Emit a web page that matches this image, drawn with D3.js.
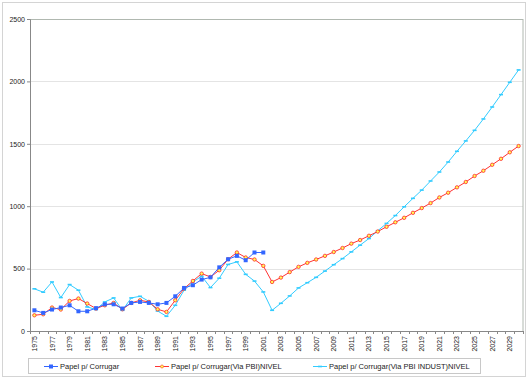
<!DOCTYPE html>
<html>
<head>
<meta charset="utf-8">
<script src="https://cdn.jsdelivr.net/npm/d3@7"></script>
<style>
  body { margin: 0; background: #fff; }
  text { font-family: "Liberation Sans", Arial, sans-serif; }
</style>
</head>
<body>
<div id="chart"></div>
<script>
// years on the category axis
const years = d3.range(1975, 2031);

// Papel p/ Corrugar (1975-2001)
const papel = [166, 145, 172, 188, 206, 158, 158, 183, 214, 214, 180, 225, 233, 225, 214, 225,
  278, 345, 367, 412, 430, 510, 575, 602, 567, 629, 629];

// Papel p/ Corrugar(Via PBI)NIVEL (1975-2030)
const viaPbi = [126, 134, 188, 172, 241, 260, 220, 180, 206, 225, 174, 225, 246, 233, 174, 153,
  246, 340, 401, 460, 433, 487, 575, 629, 589, 573, 522, 393, 428, 472, 514, 546,
  573, 602, 633, 665, 700, 729, 763, 797, 835, 871, 907, 947, 985, 1025, 1070, 1108,
  1151, 1194, 1242, 1284, 1332, 1380, 1432, 1482];

// Papel p/ Corrugar(Via PBI INDUST)NIVEL (1975-2030)
const viaIndust = [338, 311, 393, 268, 372, 327, 193, 172, 233, 265, 166, 265, 278, 238, 160, 118,
  206, 327, 393, 439, 348, 423, 533, 554, 454, 400, 313, 166, 222, 281, 345, 387,
  430, 480, 531, 580, 634, 688, 741, 803, 862, 925, 995, 1063, 1129, 1202, 1274, 1354,
  1440, 1523, 1608, 1699, 1795, 1894, 1993, 2092];

const yTicks = [0, 500, 1000, 1500, 2000, 2500];
const seriesNames = ['Papel p/ Corrugar', 'Papel p/ Corrugar(Via PBI)NIVEL', 'Papel p/ Corrugar(Via PBI INDUST)NIVEL'];

const W = 528, H = 379;
const margin = {top: 19, right: 5, bottom: 48, left: 30};
const width = W - margin.left - margin.right;
const height = H - margin.top - margin.bottom;

const svg = d3.select('#chart').append('svg')
  .attr('width', W)
  .attr('height', H);

// outer frame
svg.append('rect')
  .attr('x', 2.5).attr('y', 2.5)
  .attr('width', W - 5).attr('height', H - 5)
  .attr('fill', '#fff')
  .attr('stroke', '#d4d4d4');

const g = svg.append('g')
  .attr('transform', `translate(${margin.left},${margin.top})`);

const x = d3.scaleBand()
  .domain(years)
  .range([0, width])
  .padding(0);

const y = d3.scaleLinear()
  .domain([0, 2500])
  .range([height, 0]);

const cx = d => x(d) + x.bandwidth() / 2;

// gridlines
g.selectAll('.grid')
  .data(yTicks.slice(1, -1))
  .enter().append('line')
  .attr('x1', 0).attr('x2', width)
  .attr('y1', d => Math.round(y(d)) + 0.5)
  .attr('y2', d => Math.round(y(d)) + 0.5)
  .attr('stroke', '#e4e4e4');

// plot border
g.append('rect')
  .attr('x', 0.5).attr('y', 0.5)
  .attr('width', width - 0.5).attr('height', height)
  .attr('fill', 'none')
  .attr('stroke', '#b0b8b0');

// y axis
const yAxis = d3.axisLeft(y).tickValues(yTicks).tickFormat(d3.format('d')).tickSize(3).tickPadding(2);
g.append('g')
  .call(yAxis)
  .call(a => a.select('.domain').attr('stroke', '#888'))
  .call(a => a.selectAll('.tick line').attr('stroke', '#888'))
  .call(a => a.selectAll('text').attr('font-size', 7).attr('fill', '#222')
    .style('font-family', '"Liberation Sans", Arial, sans-serif'));

// x axis: ticks between categories, labels every other year
const xAxisG = g.append('g')
  .attr('transform', `translate(0,${height})`);
xAxisG.append('line')
  .attr('x1', 0).attr('x2', width)
  .attr('y1', 0.5).attr('y2', 0.5)
  .attr('stroke', '#888');
xAxisG.selectAll('.xt')
  .data(years.concat([2031]))
  .enter().append('line')
  .attr('x1', (d, i) => Math.round(i * x.bandwidth()) + 0.5)
  .attr('x2', (d, i) => Math.round(i * x.bandwidth()) + 0.5)
  .attr('y1', 0).attr('y2', 3)
  .attr('stroke', '#888');
xAxisG.selectAll('.xl')
  .data(years.filter((d, i) => i % 2 === 0))
  .enter().append('text')
  .attr('transform', d => `translate(${cx(d) + 2.5},${5}) rotate(-90)`)
  .attr('text-anchor', 'end')
  .attr('font-size', 7)
  .attr('fill', '#222')
  .text(d => d);

const line = d3.line()
  .x((d, i) => cx(years[i]))
  .y(d => y(d));

// cyan series
g.append('path')
  .datum(viaIndust)
  .attr('d', line)
  .attr('fill', 'none')
  .attr('stroke', '#33ccff')
  .attr('stroke-width', 1);
g.selectAll('.mc')
  .data(viaIndust)
  .enter().append('rect')
  .attr('x', (d, i) => cx(years[i]) - 2)
  .attr('y', d => y(d) - 0.8)
  .attr('width', 4).attr('height', 1.6)
  .attr('fill', '#33ccff');

// red series
g.append('path')
  .datum(viaPbi)
  .attr('d', line)
  .attr('fill', 'none')
  .attr('stroke', '#ff3333')
  .attr('stroke-width', 1);
g.selectAll('.mr')
  .data(viaPbi)
  .enter().append('circle')
  .attr('cx', (d, i) => cx(years[i]))
  .attr('cy', d => y(d))
  .attr('r', 1.7)
  .attr('fill', '#ffff55')
  .attr('stroke', '#ff2a2a')
  .attr('stroke-width', 0.8);

// blue series
g.append('path')
  .datum(papel)
  .attr('d', line)
  .attr('fill', 'none')
  .attr('stroke', '#3366ff')
  .attr('stroke-width', 1);
g.selectAll('.mb')
  .data(papel)
  .enter().append('rect')
  .attr('x', (d, i) => cx(years[i]) - 2)
  .attr('y', d => y(d) - 2)
  .attr('width', 4).attr('height', 4)
  .attr('fill', '#3366ff');

// legend
const legend = svg.append('g');
legend.append('rect')
  .attr('x', 28.5).attr('y', 358.5)
  .attr('width', 452).attr('height', 15)
  .attr('fill', '#fff')
  .attr('stroke', '#c8c8c8');

const legendX = [44, 155, 313];
const legendColors = ['#3366ff', '#ff3333', '#33ccff'];
seriesNames.forEach((name, i) => {
  const lx = legendX[i];
  const item = legend.append('g').attr('transform', `translate(${lx},366)`);
  item.append('line')
    .attr('x1', 0).attr('x2', 14).attr('y1', 0.5).attr('y2', 0.5)
    .attr('stroke', legendColors[i]);
  if (i === 0) {
    item.append('rect').attr('x', 5).attr('y', -1.5).attr('width', 4).attr('height', 4).attr('fill', '#3366ff');
  } else if (i === 1) {
    item.append('circle').attr('cx', 7).attr('cy', 0.5).attr('r', 1.5)
      .attr('fill', '#ffff55').attr('stroke', '#ff5533').attr('stroke-width', 0.7);
  } else {
    item.append('rect').attr('x', 5).attr('y', -0.3).attr('width', 4).attr('height', 1.6).attr('fill', '#33ccff');
  }
  item.append('text')
    .attr('x', 16).attr('y', 3)
    .attr('font-size', 7.5)
    .attr('fill', '#222')
    .text(name);
});
</script>
</body>
</html>
